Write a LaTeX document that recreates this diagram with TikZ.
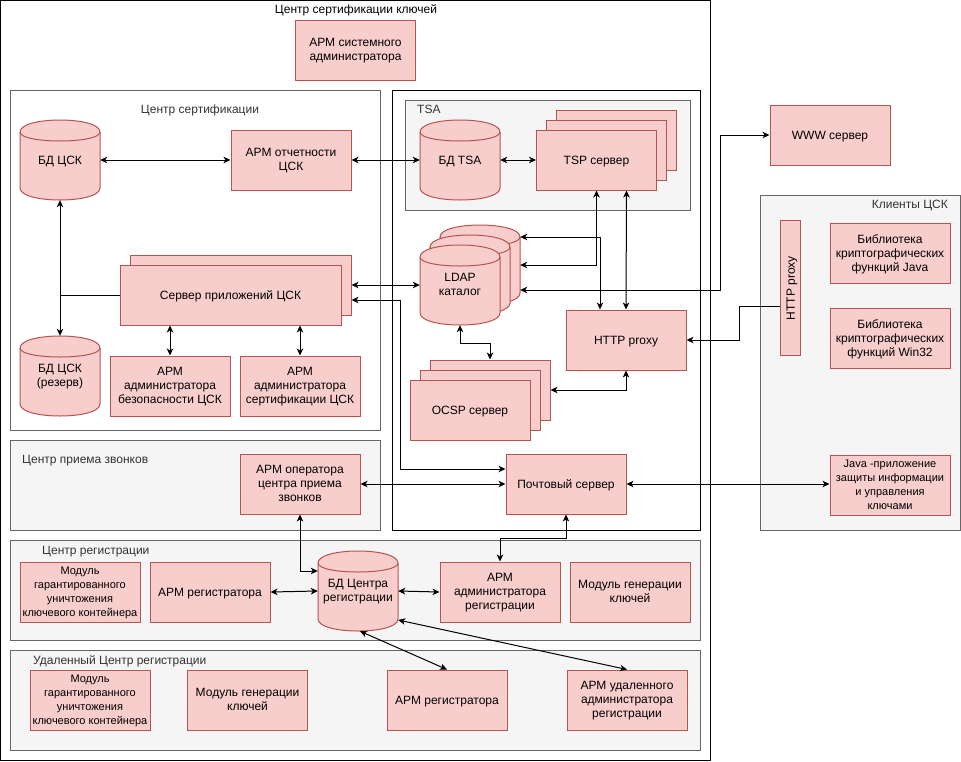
\documentclass[tikz,border=0pt]{standalone}
\usepackage{fontspec}
\setmainfont{Liberation Sans}
\usetikzlibrary{arrows.meta,calc}
\definecolor{pfill}{HTML}{F8CECC}
\definecolor{pdraw}{HTML}{B85450}
\definecolor{gfill}{HTML}{F5F5F5}
\definecolor{gdraw}{HTML}{666666}
\definecolor{gtext}{HTML}{333333}
\newcommand{\cylshape}[4]{%
  \filldraw[draw=pdraw, fill=pfill, line width=1pt] (#1,#2+12) .. controls (#1,#2-4) and (#1+#3,#2-4) .. (#1+#3,#2+12) -- (#1+#3,#2+#4-12) .. controls (#1+#3,#2+#4+4) and (#1,#2+#4+4) .. (#1,#2+#4-12) -- cycle;
  \draw[draw=pdraw, line width=1pt] (#1,#2+12) .. controls (#1,#2+24) and (#1+#3,#2+24) .. (#1+#3,#2+12);}
\tikzset{
  dtext/.style={text depth=0.8pt, execute at begin node={\rule{0pt}{10.5pt}}},
  pbox/.style={draw=pdraw, fill=pfill, line width=1pt, align=center, inner sep=0pt, minimum width=120pt, minimum height=60pt, dtext},
  cyltext/.style={align=center, inner sep=0pt, minimum width=80pt, minimum height=80pt, dtext},
  grp/.style={draw=gdraw, fill=gfill, line width=1pt},
  ttl/.style={text=gtext, inner sep=0pt},
  conn/.style={<->, line width=1pt, black},
  oneway/.style={->, line width=1pt, black},
  small/.style={font=\fontsize{11}{13.9}\selectfont},
}
\begin{document}
\begin{tikzpicture}[x=1pt, y=-1pt, font=\fontsize{12}{14}\selectfont,
  >={Stealth[length=7pt, width=6.5pt, inset=2pt]}]
\useasboundingbox (0,0) rectangle (961,761);
% containers
\draw[line width=1pt, black] (0.5,0.5) rectangle (710,760);
\node[inner sep=0pt] (tkey) at (356,10) {Центр сертификации ключей};
\draw[draw=gdraw, fill=white, line width=1pt] (10,90) rectangle (380,430);
\node[ttl] (tcs) at (200,110) {Центр сертификации};
\draw[line width=1pt, black] (392,90) rectangle (700,530);
\draw[grp] (405.5,100) rectangle (690.5,210);
\node[ttl, anchor=west] (ttsa) at (417,109) {TSA};
\draw[grp] (760,195) rectangle (960,530);
\node[ttl, anchor=east] (tcl) at (948,205) {Клиенты ЦСК};
\draw[grp] (10,440) rectangle (380,530);
\node[ttl, anchor=west] (tcall) at (22,461) {Центр приема звонков};
\draw[grp] (10,540) rectangle (700,640);
\node[ttl, anchor=west] (treg) at (42,552) {Центр регистрации};
\draw[grp] (10,650) rectangle (700,750);
\node[ttl, anchor=west] (trreg) at (33,661) {Удаленный Центр регистрации};

% top
\node[pbox] (armsys) at (355.5,50) {АРМ системного\\администратора};

% certification center
\cylshape{20}{120}{80}{80}
\node[cyltext] (bdcsk) at (60,160) {БД ЦСК};
\node[pbox] (armotch) at (291,160) {АРМ отчетности\\ЦСК};
\node[pbox, minimum width=221pt] (srvB) at (240.5,285) {};
\node[pbox, minimum width=221pt] (srv) at (230.5,295) {Сервер приложений ЦСК};
\cylshape{20}{336}{80}{80}
\node[cyltext] (bdres) at (60,376) {БД ЦСК\\(резерв)};
\node[pbox] (armbez) at (170,386) {АРМ\\администратора\\безопасности ЦСК};
\node[pbox] (armsert) at (300,386) {АРМ\\администратора\\сертификации ЦСК};

% TSA
\cylshape{420}{120}{80}{80}
\node[cyltext] (bdtsa) at (460,160) {БД TSA};
\node[pbox] (tspC) at (616.5,140) {};
\node[pbox] (tspB) at (606.5,150) {};
\node[pbox] (tsp) at (596.5,160) {TSP сервер};

% LDAP
\cylshape{440}{225}{80}{80}
\node[cyltext] (ldapC) at (480,265) {};
\cylshape{430}{235}{80}{80}
\node[cyltext] (ldapB) at (470,275) {};
\cylshape{420}{245}{80}{80}
\node[cyltext] (ldap) at (460,285) {LDAP\\каталог};

\node[pbox] (http) at (626,340) {HTTP proxy};

% OCSP
\node[pbox] (ocspC) at (490,390) {};
\node[pbox] (ocspB) at (480,400) {};
\node[pbox] (ocsp) at (470,410) {OCSP сервер};

\node[pbox] (mail) at (566,484) {Почтовый сервер};

% right side
\node[pbox] (www) at (830,135) {WWW сервер};
\node[pbox, minimum width=20pt, minimum height=135pt] (cproxy) at (790,288) {};
\node[rotate=90, inner sep=0pt, dtext] (cproxyt) at (cproxy.center) {HTTP proxy};
\node[pbox] (libj) at (890,253) {Библиотека\\криптографических\\функций Java};
\node[pbox] (libw) at (890,338) {Библиотека\\криптографических\\функций Win32};
\node[pbox, small] (japp) at (890,485) {Java -приложение\\защиты информации\\и управления\\ключами};

% call center
\node[pbox] (armop) at (300,484) {АРМ оператора\\центра приема\\звонков};

% registration center
\node[pbox, small] (mgar) at (80,592) {Модуль\\гарантированного\\уничтожения\\ключевого контейнера};
\node[pbox] (armreg) at (210,592) {АРМ регистратора};
\cylshape{318}{551}{80}{80}
\node[cyltext] (bdcr) at (358,591) {БД Центра\\регистрации};
\node[pbox] (armadmreg) at (500,592) {АРМ\\администратора\\регистрации};
\node[pbox] (mgen) at (630,592) {Модуль генерации\\ключей};

% remote registration center
\node[pbox, small] (rmgar) at (90,700) {Модуль\\гарантированного\\уничтожения\\ключевого контейнера};
\node[pbox] (rmgen) at (247.5,700) {Модуль генерации\\ключей};
\node[pbox] (rarmreg) at (447,700) {АРМ регистратора};
\node[pbox] (rarmadm) at (627,700) {АРМ удаленного\\администратора\\регистрации};

% connectors
\draw[conn] (bdcsk.east) -- (armotch.west);
\draw[conn] (armotch.east) -- (bdtsa.west);
\draw[conn] (bdtsa.east) -- (tsp.west);
\draw[oneway] (srv.west) -| (bdcsk.south);
\draw[oneway] (srv.west) -| (bdres.north);
\draw[conn] (srv.south -| armbez.north) -- (armbez.north);
\draw[conn] (srv.south -| armsert.north) -- (armsert.north);
\draw[conn] (srvB.east) -- (ldap.west);
\draw[conn] ($(srvB.east)+(0,15)$) -- ++(49,0) |- ($(mail.west)+(0,-15)$);
\draw[conn] (armop.east) -- (mail.west);
\draw[conn] (mail.east) -- (mail.east -| japp.west);
\draw[conn] (mail.south) -- ++(0,24) -| (armadmreg.north);
\draw[conn] (armop.south) |- ($(bdcr.west)+(0,-20)$);
\draw[conn] (armreg.east) -- (bdcr.west);
\draw[conn] (bdcr.east) -- (armadmreg.west);
\draw[conn] ($(bdcr.south)+(2,0)$) -- (rarmreg.north);
\draw[conn] ($(bdcr.east)+(0,29)$) -- (rarmadm.north);
\draw[conn] (tsp.south) |- (ldapC.east);
\draw[conn] ($(ldapC.east)+(0,-28)$) -| ($(http.north)+(-26,0)$);
\draw[conn] ($(tsp.south)+(30,0)$) -- (http.north);
\draw[conn] ($(ldapC.east)+(0,25)$) -- ++(200,0) |- (www.west);
\draw[oneway] ($(cproxy.west)+(0,18)$) -- ++(-40,0) |- (http.east);
\draw[conn] (ldap.south) -- ++(0,18) -| (ocspC.north);
\draw[conn] (ocspC.east) -| (http.south);
\end{tikzpicture}
\end{document}
